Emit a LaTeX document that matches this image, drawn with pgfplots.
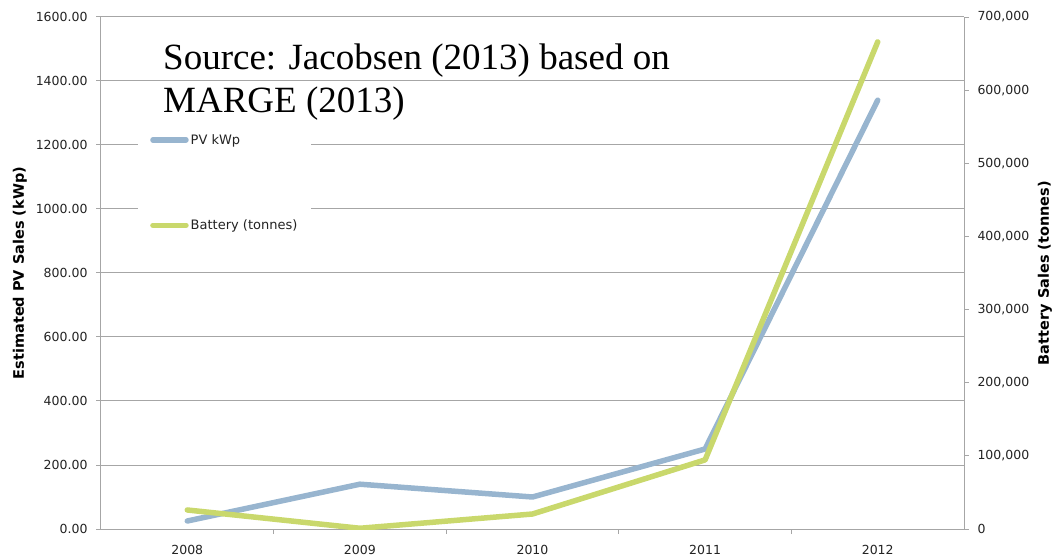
\documentclass[border=0pt]{standalone}
\usepackage{pgfplots}
\pgfplotsset{compat=1.18}
\usepackage{fontspec}
\setmainfont{DejaVu Sans}
\newfontfamily\srcfont{Liberation Serif}

\definecolor{pvblue}{RGB}{152,181,207}
\definecolor{battgreen}{RGB}{201,216,108}
\definecolor{gridgray}{RGB}{166,166,166}
\definecolor{labelgray}{RGB}{35,35,35}

\pgfplotsset{
  common/.style={
    scale only axis, width=863pt, height=512pt,
    at={(0pt,0pt)}, anchor=south west,
    xmin=2007.5, xmax=2012.5, ymin=0,
    axis line style={draw=gridgray, line width=1pt, -},
    tick style={draw=gridgray, line width=1pt},
    tick align=outside,
    major tick length=5pt,
    tick label style={font=\fontsize{12.5}{14}\selectfont, text=labelgray},
    label style={font=\bfseries\fontsize{14.5}{16}\selectfont, text=black},
    /pgf/number format/assume math mode=true,
  },
  pvline/.style={pvblue, line width=5.5pt, line cap=round, line join=round},
  battline/.style={battgreen, line width=5.5pt, line cap=round, line join=round},
}

\begin{document}
\begin{tikzpicture}
% PV sales on the left axis, with the grid and the year axis
\begin{axis}[
  common,
  ymax=1600,
  axis x line*=bottom, axis y line*=left,
  xtick={2008,2009,2010,2011,2012},
  xticklabels={2008,2009,2010,2011,2012},
  major x tick style={draw=none},
  minor xtick={2008.5,2009.5,2010.5,2011.5},
  minor tick length=5pt,
  minor x tick style={draw=gridgray, line width=1pt},
  xticklabel style={yshift=-8pt},
  ytick={0,200,...,1600},
  yticklabel style={xshift=-5pt,
    /pgf/number format/fixed, /pgf/number format/fixed zerofill,
    /pgf/number format/precision=2, /pgf/number format/1000 sep={}},
  ymajorgrids,
  grid style={draw=gridgray, line width=1pt},
  ylabel={Estimated PV Sales (kWp)},
  ylabel style={at={(axis description cs:-0.0939,0.5)}, anchor=center},
]
\addplot[pvline] coordinates {
  (2008,25) (2009,140) (2010,100) (2011,250) (2012,1340)
};
\end{axis}

% Battery sales on the right axis
\begin{axis}[
  common,
  ymax=700000,
  axis x line=none, axis y line*=right,
  ytick={0,100000,...,700000},
  scaled y ticks=false,
  yticklabel style={xshift=5pt,
    /pgf/number format/fixed, /pgf/number format/1000 sep={,}},
  ylabel={Battery Sales (tonnes)},
  ylabel style={at={(axis description cs:1.0939,0.5)}, anchor=center, rotate=0},
  legend style={
    draw=none, fill=white,
    at={(axis description cs:0.0429,0.791)}, anchor=north west,
    inner xsep=12pt, inner ysep=8pt,
    row sep=70pt,
    font=\fontsize{13}{15}\selectfont, text=labelgray,
  },
  legend cell align=left,
  legend image code/.code={\draw[#1] (0pt,0pt) -- (33pt,0pt);},
]
\addlegendimage{pvline}
\addlegendentry{PV kWp}
\addplot[battline] coordinates {
  (2008,26000) (2009,1000) (2010,20500) (2011,94500) (2012,666000)
};
\addlegendentry{Battery (tonnes)}
\end{axis}

\node[anchor=base west, align=left, inner sep=0pt,
      font=\srcfont\fontsize{37}{43}\selectfont]
  at (62pt,416pt) {Source: Jacobsen (2013) based on\\MARGE (2013)};

\pgfresetboundingbox
\path (-101pt,-28pt) rectangle (951pt,529pt);
\end{tikzpicture}
\end{document}
